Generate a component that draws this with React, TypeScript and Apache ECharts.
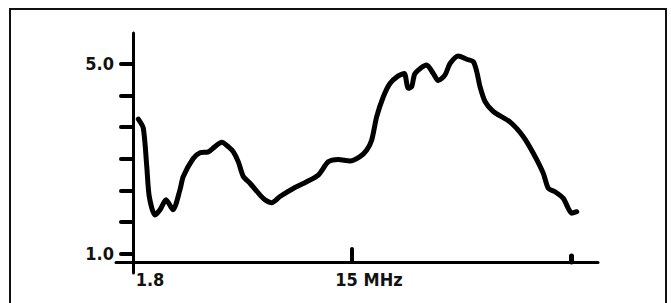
import React, { useEffect, useRef } from "react";
import * as echarts from "echarts";

// Frequency (MHz)
const freqMHz = [
  2.12, 2.42, 2.63, 2.78, 3.13, 3.43, 3.79, 4.21, 4.63, 4.83, 5.43, 5.84, 6.34, 6.74, 7.15, 7.54,
  7.85, 8.15, 8.45, 8.85, 9.46, 9.76, 10.16, 10.66, 11.46, 12.27, 12.97, 13.57, 14.17, 14.88, 15.48,
  15.89, 16.19, 16.49, 16.89, 17.29, 17.79, 18.15, 18.39, 18.6, 18.8, 19.5, 19.9, 20.2, 20.61, 20.91,
  21.41, 21.91, 22.31, 22.52, 22.72, 23.02, 23.52, 24.52, 25.33, 25.93, 26.53, 26.84, 27.24, 27.74,
  28.04, 28.24, 28.55,
];
// Ratio values
const ratio = [
  3.83, 3.64, 2.83, 2.2, 1.81, 1.92, 2.13, 1.92, 2.34, 2.62, 3.0, 3.12, 3.14, 3.25, 3.34, 3.25,
  3.14, 2.93, 2.62, 2.48, 2.23, 2.13, 2.07, 2.2, 2.37, 2.51, 2.65, 2.93, 2.98, 2.95, 3.04,
  3.18, 3.39, 3.88, 4.3, 4.58, 4.74, 4.79, 4.48, 4.51, 4.79, 4.97, 4.79, 4.64, 4.76, 5.0,
  5.16, 5.09, 5.04, 4.83, 4.51, 4.2, 3.99, 3.77, 3.46, 3.11, 2.69, 2.37, 2.3, 2.16,
  1.95, 1.85, 1.88,
];
const yTickValues = [1.0, 1.67, 2.33, 3.0, 3.67, 4.33, 5.0];
const yLabelValues = [1.0, 5.0];
const xLabelValues = [1.8, 15];
const xMajorTicks = [15];
const xMinorTicks = [28.2];

const FONT = "'DejaVu Sans Condensed', 'Liberation Sans Narrow', sans-serif";

export default function App() {
  const ref = useRef<HTMLDivElement>(null);
  useEffect(() => {
    document.body.style.margin = "0";
    const chart = echarts.init(ref.current!, null, { renderer: "svg" });
    const data = freqMHz.map((f, i) => [f, ratio[i]]);
    chart.setOption({
      animation: false,
      backgroundColor: "#ffffff",
      graphic: [
        {
          type: "rect",
          shape: { x: 10, y: 9, width: 656, height: 310 },
          style: { fill: "none", stroke: "#111", lineWidth: 2 },
          silent: true,
        },
      ],
      grid: { left: 116, right: 73, top: 33, bottom: 30 },
      xAxis: [
        {
          type: "value",
          min: 0.775,
          max: 29.83,
          offset: -11,
          splitLine: { show: false },
          axisLine: { show: true, lineStyle: { color: "#000", width: 3 } },
          axisTick: {
            show: true,
            inside: true,
            length: 13,
            customValues: xMajorTicks,
            lineStyle: { color: "#000", width: 4, cap: "round" },
          },
          axisLabel: {
            show: true,
            customValues: xLabelValues,
            margin: 8,
            padding: [0, 0, 0, 34],
            color: "#111",
            fontFamily: FONT,
            fontWeight: "bold",
            fontSize: 18,
            formatter: (v: number) => (v === 15 ? "15 MHz" : String(v)),
          },
        },
        {
          type: "value",
          position: "bottom",
          min: 0.775,
          max: 29.83,
          offset: -11,
          splitLine: { show: false },
          axisLine: { show: false },
          axisTick: {
            show: true,
            inside: true,
            length: 6,
            customValues: xMinorTicks,
            lineStyle: { color: "#000", width: 5, cap: "round" },
          },
          axisLabel: { show: false },
        },
      ],
      yAxis: {
        type: "value",
        min: 0.59,
        max: 5.642,
        offset: -17,
        splitLine: { show: false },
        axisLine: { show: true, lineStyle: { color: "#000", width: 3 } },
        axisTick: {
          show: true,
          length: 12,
          customValues: yTickValues,
          lineStyle: { color: "#000", width: 4, cap: "round" },
        },
        axisLabel: {
          show: true,
          customValues: yLabelValues,
          margin: 19,
          color: "#111",
          fontFamily: FONT,
          fontWeight: "bold",
          fontSize: 18,
          formatter: (v: number) => v.toFixed(1),
        },
      },
      series: [
        {
          type: "line",
          xAxisIndex: 0,
          data,
          smooth: 0.25,
          symbol: "none",
          lineStyle: { color: "#000", width: 5, cap: "round", join: "round" },
        },
      ],
    });
    return () => chart.dispose();
  }, []);
  return (
    <div
      ref={ref}
      style={{ position: "fixed", left: 0, top: 0, width: 671, height: 303 }}
    />
  );
}
